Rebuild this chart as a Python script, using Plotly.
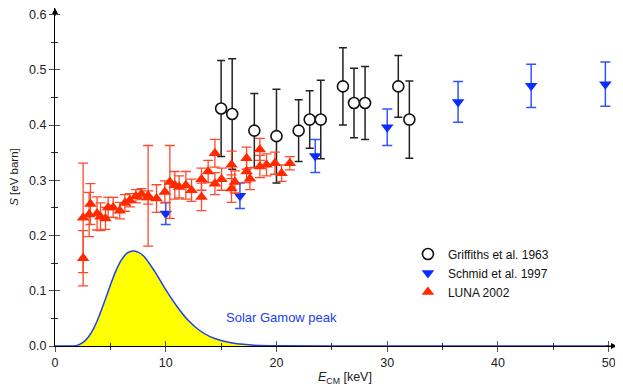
import plotly.graph_objects as go

# Solar Gamow peak
gamow_e = [0, 1.5, 2.0, 2.5, 3.0, 3.5, 4.0, 4.5, 5.0, 5.5, 6.0, 6.5, 7.0, 7.5, 8.0, 9.0, 10.0,
           11.0, 12.0, 13.0, 14.0, 15.0, 16.0, 17.0, 18.0, 20.0, 25.0, 50.0]
gamow_s = [0, 0, 0.001, 0.006, 0.016, 0.032, 0.055, 0.082, 0.110, 0.136, 0.156, 0.168, 0.172, 0.170,
           0.163, 0.135, 0.102, 0.072, 0.047, 0.029, 0.017, 0.010, 0.0055, 0.003, 0.0015, 0.0004, 0, 0]

# Griffiths et al. 1963
gr_e = [15, 16, 18, 20, 22, 23, 24, 26, 27, 28, 31, 32]
gr_s = [0.43, 0.42, 0.39, 0.38, 0.39, 0.41, 0.41, 0.47, 0.44, 0.44, 0.47, 0.41]
gr_err = [0.087, 0.10, 0.067, 0.085, 0.056, 0.052, 0.071, 0.07, 0.063, 0.066, 0.056, 0.07]

# Schmid et al. 1997
sc_e = [10.0, 16.7, 23.5, 30.0, 36.4, 43.0, 49.7]
sc_s = [0.240, 0.272, 0.344, 0.396, 0.442, 0.471, 0.474]
sc_err = [0.02, 0.023, 0.03, 0.033, 0.037, 0.039, 0.04]

# LUNA 2002
lu_e = [2.54, 2.54, 3.08, 3.20, 3.80, 4.11, 4.56, 4.80, 5.25, 5.85, 6.31, 6.76, 7.30, 7.81, 8.41,
        8.41, 9.17, 9.92, 10.37, 10.82, 11.21, 11.82, 12.33, 13.23, 13.23, 13.83, 14.44, 14.44,
        15.04, 15.94, 15.94, 16.24, 17.30, 17.30, 17.60, 18.50, 18.50, 19.10, 19.86, 20.46, 21.21]
lu_s = [0.232, 0.159, 0.238, 0.257, 0.240, 0.234, 0.231, 0.251, 0.251, 0.245, 0.259, 0.264, 0.271,
        0.275, 0.269, 0.272, 0.267, 0.279, 0.297, 0.291, 0.288, 0.291, 0.282, 0.270, 0.302, 0.316,
        0.349, 0.294, 0.302, 0.328, 0.285, 0.297, 0.340, 0.316, 0.303, 0.356, 0.325, 0.328, 0.331,
        0.313, 0.331]
lu_err = [0.099, 0.050, 0.040, 0.037, 0.030, 0.025, 0.020, 0.018, 0.018, 0.015, 0.015, 0.012, 0.012,
          0.010, 0.012, 0.091, 0.025, 0.020, 0.066, 0.025, 0.020, 0.025, 0.020, 0.025, 0.020, 0.020,
          0.025, 0.020, 0.020, 0.025, 0.025, 0.020, 0.020, 0.020, 0.020, 0.020, 0.020, 0.020, 0.020,
          0.015, 0.012]

RED = '#ff2a00'
BLUE = '#0a2cff'
XMAX = 50.75
YMAX = 0.612

fig = go.Figure()
fig.add_trace(go.Scatter(x=gamow_e, y=gamow_s, mode='lines', line_shape='spline', fill='tozeroy',
                         fillcolor='#ffff00', line=dict(color='#2040f0', width=1.5), showlegend=False,
                         hoverinfo='skip'))
fig.add_trace(go.Scatter(x=gr_e, y=gr_s, mode='markers', name='Griffiths et al. 1963',
                         marker=dict(symbol='circle', size=11, color='white', line=dict(color='#111', width=1.6)),
                         error_y=dict(type='data', array=gr_err, color='#222', thickness=1.5, width=4)))
fig.add_trace(go.Scatter(x=sc_e, y=sc_s, mode='markers', name='Schmid et al. 1997',
                         marker=dict(symbol='triangle-down', size=11, color=BLUE),
                         error_y=dict(type='data', array=sc_err, color='#3355ff', thickness=1.5, width=5)))
fig.add_trace(go.Scatter(x=lu_e, y=lu_s, mode='markers', name='LUNA 2002',
                         marker=dict(symbol='triangle-up', size=11, color=RED),
                         error_y=dict(type='data', array=lu_err, color='#ff4a2a', thickness=1.3, width=5)))
# empty trace for the overlay tick axes
fig.add_trace(go.Scatter(x=[], y=[], xaxis='x2', yaxis='y2', showlegend=False))

fig.add_annotation(x=20.45, y=0.051, text='Solar Gamow peak', showarrow=False,
                   font=dict(color='#2040f0', size=13))
# x axis title, sits a bit right of the plot centre in the original
fig.add_annotation(x=26.2, y=-0.125, xref='x', yref='paper', text='<i>E</i><sub>CM</sub> [keV]',
                   showarrow=False, font=dict(size=12.5, color='#222'))
# axis arrows
fig.add_annotation(x=XMAX, y=0, ax=XMAX - 1.2, ay=0, axref='x', ayref='y', text=' ', showarrow=True,
                   arrowhead=2, arrowsize=1.2, arrowwidth=1, arrowcolor='black')
fig.add_annotation(x=0, y=YMAX, ax=0, ay=YMAX - 0.03, axref='x', ayref='y', text=' ', showarrow=True,
                   arrowhead=2, arrowsize=1.2, arrowwidth=1, arrowcolor='black')

tickfont = dict(size=12.5, color='#222')
fig.update_layout(
    width=615, height=384,
    margin=dict(l=47, r=6, t=0, b=46),
    plot_bgcolor='white', paper_bgcolor='white',
    font=dict(family='Arial, Liberation Sans, sans-serif', color='#222'),
    xaxis=dict(range=[0, XMAX], showgrid=False, zeroline=False, showline=True, linecolor='black',
               linewidth=1, ticks='outside', ticklen=5, tickcolor='#555', tickvals=[0, 10, 20, 30, 40, 50],
               minor=dict(tickvals=[5, 15, 25, 35, 45], ticks='outside', ticklen=3, tickcolor='#333'),
               tickfont=tickfont, automargin=False),
    yaxis=dict(range=[0, YMAX], showgrid=False, zeroline=False, showline=True, linecolor='black',
               linewidth=1, ticks='outside', ticklen=5, tickcolor='#555',
               tickvals=[0, 0.1, 0.2, 0.3, 0.4, 0.5, 0.6], tickformat='.1f',
               minor=dict(tickvals=[0.05, 0.15, 0.25, 0.35, 0.45, 0.55], ticks='outside', ticklen=3, tickcolor='#333'),
               tickfont=tickfont, title=dict(text='<i>S</i> [eV barn]', font=dict(size=11.5), standoff=9),
               automargin=False),
    xaxis2=dict(range=[0, XMAX], overlaying='x', anchor='y2', side='bottom', showgrid=False, zeroline=False,
                showline=False, showticklabels=False, ticks='inside', ticklen=5, tickcolor='#555',
                tickvals=[0, 10, 20, 30, 40, 50],
                minor=dict(tickvals=[5, 15, 25, 35, 45], ticks='inside', ticklen=3, tickcolor='#333')),
    yaxis2=dict(range=[0, YMAX], overlaying='y', anchor='x2', side='left', showgrid=False, zeroline=False,
                showline=False, showticklabels=False, ticks='inside', ticklen=5, tickcolor='#555',
                tickvals=[0, 0.1, 0.2, 0.3, 0.4, 0.5, 0.6],
                minor=dict(tickvals=[0.05, 0.15, 0.25, 0.35, 0.45, 0.55], ticks='inside', ticklen=3, tickcolor='#333')),
    legend=dict(x=0.628, y=0.315, xanchor='left', yanchor='top', bgcolor='rgba(0,0,0,0)',
                font=dict(size=12, color='#111'), tracegroupgap=0),
)

fig.write_html('out.html')
